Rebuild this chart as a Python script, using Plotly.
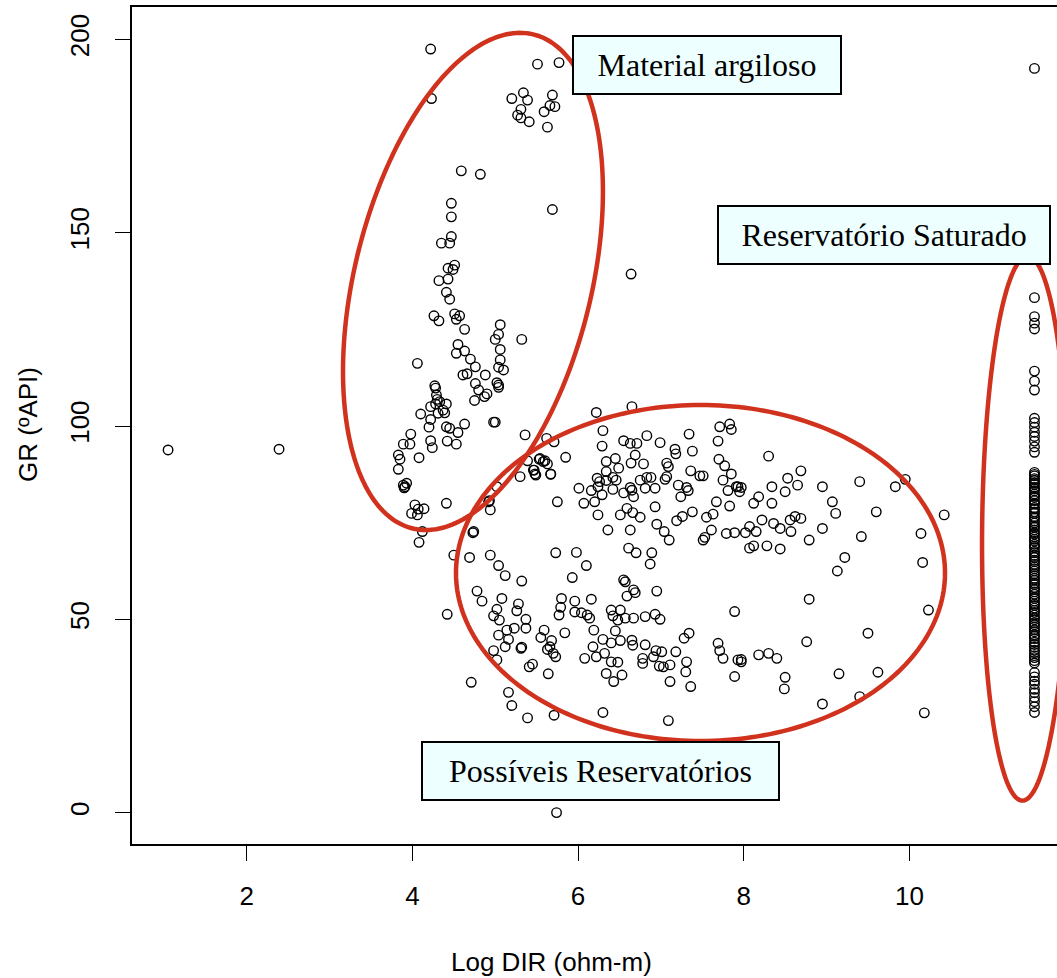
import numpy as np
import plotly.graph_objects as go

# ---- Log DIR (ohm-m) vs GR (ºAPI) --------------------------------------
# Clay-rich interval (high GR, low resistivity)
clay_x = [4.22, 4.23, 5.51, 5.77, 5.20, 5.34, 5.39, 5.31, 5.27, 5.31, 5.41, 5.69, 5.66, 5.72, 5.59, 5.63,
          4.59, 4.82, 4.47, 4.47, 5.69, 4.47, 4.35, 4.45, 4.51, 4.43, 4.49,
          4.32, 4.43, 4.41, 4.45, 4.26, 4.32, 4.51, 4.57, 4.53, 4.63, 5.06, 5.04, 5.00, 5.32, 4.55, 4.53,
          4.63, 4.70, 4.76, 5.06, 5.06, 5.04, 5.10, 4.06, 4.61, 4.66, 4.88, 4.76, 5.02, 5.04, 5.04, 4.80,
          4.90, 4.87, 4.75,
          4.27, 4.28, 4.29, 4.30, 4.33, 4.41, 4.28, 4.22, 4.37, 4.39, 4.31, 4.10, 4.22, 4.20, 4.41, 4.45,
          4.63, 4.55, 4.98, 5.00, 3.98, 3.89, 3.97, 4.22, 4.24, 4.42, 4.53, 3.83, 3.85, 4.08, 3.83, 3.89,
          3.91, 3.93, 3.90, 4.41, 4.03, 4.07, 4.14, 3.99, 4.06, 4.12, 4.08]
clay_y = [197.5, 184.7, 193.6, 194.0, 184.7, 186.2, 184.3, 181.9, 180.4, 179.7, 178.7, 185.6, 182.9, 182.6, 181.3, 177.3,
          166.0, 165.1, 157.6, 154.1, 156.0, 149.0, 147.3, 147.3, 141.6, 140.8, 140.5,
          137.6, 138.0, 134.6, 132.8, 128.5, 127.2, 129.0, 128.5, 127.6, 125.0, 126.2, 123.7, 122.4, 122.4, 121.1, 118.8,
          119.4, 117.3, 115.3, 119.8, 117.1, 115.2, 114.5, 116.2, 113.2, 113.5, 113.2, 111.0, 111.2, 110.6, 110.0, 109.3,
          108.3, 107.6, 106.6,
          110.4, 109.8, 108.0, 106.9, 106.3, 105.7, 105.7, 105.0, 104.1, 103.4, 103.3, 103.1, 101.7, 99.7, 99.8, 99.4,
          100.5, 98.3, 101.0, 101.0, 97.9, 95.3, 95.3, 96.2, 94.4, 96.1, 95.3, 92.5, 91.4, 91.8, 88.8, 84.7,
          84.3, 85.2, 84.0, 80.0, 79.6, 78.5, 78.6, 77.4, 77.0, 72.7, 69.9]

# Possible reservoirs (moderate resistivity, low GR)
res_x = [4.74, 5.36, 5.62, 5.71, 5.85, 5.53, 5.60, 5.63, 5.47, 5.49, 5.30, 5.67, 5.02, 4.93, 4.94, 5.75,
         6.22, 6.65, 6.30, 6.29, 6.55, 6.63, 6.71, 6.83, 6.99, 7.17, 7.18, 7.34, 7.38, 7.71, 7.83, 7.85,
         7.69, 7.70, 7.77, 7.85, 7.75, 7.91, 7.81, 7.67, 7.83, 7.63, 7.55, 7.61, 7.51, 7.53, 7.79, 7.89, 7.89,
         6.34, 6.45, 6.49, 6.64, 6.69, 6.79, 6.34, 6.23, 6.26, 6.24, 6.34, 6.42, 6.46, 6.42, 6.29, 6.16,
         6.01, 6.07, 6.20, 6.55, 6.63, 6.65, 6.67, 6.75, 6.81, 6.83, 6.88, 6.93, 7.07, 7.09, 7.07, 7.05,
         7.21, 7.31, 7.33, 7.24, 7.47, 7.36, 6.93, 6.59, 6.66, 6.51, 6.75, 6.24, 6.36, 6.63, 6.95, 7.04,
         7.10, 7.19, 7.26, 7.38, 6.61, 6.70, 6.89, 6.87,
         5.54, 5.58, 5.39, 5.46, 5.48, 5.67, 4.92, 4.73, 4.50, 4.69, 4.94, 5.04, 5.12, 5.32, 5.73, 5.98,
         6.10, 5.93, 6.55, 6.57, 6.67, 6.69, 6.59, 6.95, 4.78, 4.84, 5.08, 5.02, 4.98, 5.05, 5.14, 5.16,
         5.04, 5.12, 4.98, 5.02, 5.28, 5.26, 5.37, 5.37, 5.23, 5.32, 5.31, 5.80, 5.79, 5.77, 5.96, 6.16,
         5.96, 6.04, 6.11, 6.14, 6.40, 6.51, 6.42, 6.48, 6.57, 6.67, 6.81, 6.93, 6.99, 6.19, 6.45, 5.59,
         5.55, 5.84, 5.68, 5.66, 5.70, 5.73, 5.63, 5.45, 5.41, 5.64, 6.30, 6.18, 6.22, 6.08, 6.32, 6.40,
         6.51, 6.65, 6.66, 6.40, 6.48, 6.34, 6.43, 6.53, 6.81, 6.78, 6.78, 6.91, 6.94, 6.98, 7.03, 7.11,
         7.01, 7.18, 7.11, 7.31, 7.30, 7.36, 7.28, 7.34, 7.69, 7.71, 7.75, 7.93, 7.89, 4.71, 5.16, 5.20,
         5.39, 5.71, 6.30, 7.09, 4.42,
         8.30, 7.51, 7.93, 7.97, 7.95, 8.18, 8.12, 8.34, 8.53, 8.69, 8.65, 8.50, 8.34, 8.95, 9.40, 9.07,
         9.11, 9.60, 9.83, 9.95, 10.14, 10.16, 10.23, 9.42, 9.22, 9.13, 8.95, 8.79, 8.69, 8.62, 8.56, 8.57,
         8.44, 8.36, 8.22, 8.15, 8.07, 8.02, 8.07, 8.12, 8.28, 8.44, 8.79, 9.50, 8.76, 7.97, 7.97, 8.18,
         8.30, 8.40, 8.50, 8.49, 9.15, 9.62, 8.95, 9.40]
res_y = [72.7, 97.7, 96.8, 95.9, 91.9, 91.4, 91.0, 90.2, 88.6, 87.3, 86.9, 87.5, 84.3, 80.7, 78.3, 80.4,
         103.5, 105.0, 98.8, 94.8, 96.2, 95.5, 95.5, 97.5, 95.7, 94.0, 92.8, 97.9, 93.5, 99.8, 100.5, 99.1,
         96.1, 91.4, 89.7, 87.6, 86.0, 84.3, 83.3, 80.4, 79.3, 77.2, 76.4, 73.1, 70.5, 71.2, 72.2, 72.4, 52.0,
         90.8, 91.6, 89.1, 90.4, 92.5, 90.2, 88.2, 86.5, 85.6, 84.3, 85.9, 86.7, 86.0, 83.6, 82.2, 83.3,
         83.9, 80.0, 80.4, 82.7, 84.1, 83.4, 81.7, 86.0, 83.9, 86.7, 86.7, 83.9, 90.4, 89.5, 86.9, 86.2,
         84.7, 84.1, 83.3, 81.7, 87.1, 88.4, 79.1, 78.7, 77.6, 77.0, 76.4, 77.0, 73.1, 73.1, 74.6, 72.7,
         70.5, 75.5, 76.6, 77.8, 68.4, 67.2, 67.2, 64.3,
         91.6, 90.8, 91.0, 88.6, 87.6, 87.6, 80.4, 72.4, 66.6, 66.0, 66.6, 63.9, 61.3, 59.9, 67.2, 67.3,
         63.9, 60.8, 60.2, 59.7, 57.6, 56.9, 56.0, 57.3, 57.3, 54.7, 55.4, 52.6, 50.9, 49.8, 47.2, 44.8,
         45.9, 42.9, 41.9, 39.5, 54.0, 52.2, 50.0, 47.7, 47.7, 42.8, 42.5, 55.4, 53.1, 51.1, 54.7, 55.2,
         51.9, 51.7, 51.1, 50.3, 52.4, 52.4, 50.9, 49.8, 50.3, 50.3, 50.7, 51.3, 50.0, 47.2, 47.0, 47.2,
         45.3, 46.5, 44.5, 42.9, 41.2, 40.3, 42.2, 38.4, 37.7, 35.9, 44.8, 42.9, 40.3, 39.9, 41.2, 43.9,
         44.5, 44.6, 43.3, 39.0, 38.9, 36.0, 33.9, 35.6, 43.4, 39.9, 38.6, 40.3, 41.9, 37.9, 37.7, 38.2,
         41.6, 41.6, 33.9, 39.0, 36.4, 32.6, 45.1, 46.4, 43.8, 41.9, 39.9, 39.5, 35.2, 33.7, 31.1, 27.7,
         24.5, 25.2, 25.9, 23.8, 51.3,
         92.2, 87.1, 84.3, 84.1, 83.0, 81.7, 80.0, 84.3, 86.5, 88.4, 84.7, 83.0, 80.0, 84.3, 85.6, 80.4,
         77.4, 77.8, 84.3, 86.2, 72.2, 64.7, 52.4, 71.4, 66.0, 62.5, 73.5, 70.5, 76.1, 76.6, 75.7, 72.7,
         73.5, 74.8, 75.7, 72.7, 74.0, 72.4, 68.4, 69.0, 69.0, 68.2, 55.2, 46.4, 44.2, 39.6, 39.0, 40.8,
         41.2, 39.9, 35.0, 32.0, 35.9, 36.3, 28.1, 30.0]

# Isolated samples
iso_x = [1.05, 2.39, 5.74, 6.64, 10.42, 10.18]
iso_y = [93.8, 94.0, 0.0, 139.3, 77.0, 25.8]

# Saturated reservoir: resistivity at the tool ceiling
sat_x_value = 11.51
sat_y = [192.5, 133.2, 128.3, 126.6, 125.1, 114.2, 111.6, 109.3, 102.0, 100.9, 99.7, 98.4, 97.3, 96.1,
         94.6, 93.2,
         88.0, 87.5, 87.1, 86.4, 86.0, 85.3, 84.9, 84.1, 83.7, 83.2, 82.4, 81.9, 81.5, 80.7, 80.0, 79.8,
         78.9, 78.5, 77.8, 77.4, 76.5, 76.2, 75.4, 74.9, 74.2, 73.8, 73.1, 72.4, 72.0, 71.3, 70.7, 70.2,
         69.4, 68.9, 68.5, 67.6, 67.2, 66.5, 66.0, 65.3, 64.9, 64.2, 63.6, 63.1, 62.5, 61.8, 61.3, 60.6,
         60.1, 59.4, 59.0, 58.2, 57.7, 57.1, 56.5, 55.8, 55.4, 54.7, 54.0, 53.6, 52.9, 52.3, 51.8, 51.1,
         50.4, 49.9, 49.1, 48.6, 48.0, 47.3, 46.8, 46.0, 45.6, 45.0, 44.1, 43.5, 42.8, 42.0, 41.4, 40.6,
         40.1, 39.3, 38.7,
         36.2, 35.1, 34.0, 33.2, 31.9, 31.0, 29.8, 28.7, 27.4, 25.9]
sat_x = [sat_x_value] * len(sat_y)

x_ticks = [2, 4, 6, 8, 10]
y_ticks = [0, 50, 100, 150, 200]

# Interpretation zones: centre, half-extent in x and y, correlation
zones = [
    dict(cx=4.731, cy=137.4, wx=1.569, hy=64.3, rho=0.362),   # Material argiloso
    dict(cx=7.478, cy=61.98, wx=2.952, hy=43.46, rho=0.0),    # Possíveis Reservatórios
    dict(cx=11.396, cy=73.5, wx=0.519, hy=70.4, rho=0.06),    # Reservatório Saturado
]

zone_labels = [
    dict(text="Material argiloso", x=7.556, y=193.4, w=266, h=56),
    dict(text="Reservatório Saturado", x=9.694, y=149.4, w=330, h=56),
    dict(text="Possíveis Reservatórios", x=6.271, y=10.76, w=355, h=56),
]

RED = "rgb(208,50,30)"
W, H = 1057, 978
ML, MR, MT, MB = 132, 0, 7, 134

fig = go.Figure()

marker = dict(symbol="circle-open", size=9.5, color="black", line=dict(width=1.4, color="black"))
for xs, ys in [(clay_x, clay_y), (res_x, res_y), (iso_x, iso_y), (sat_x, sat_y)]:
    fig.add_trace(go.Scatter(x=xs, y=ys, mode="markers", marker=marker,
                             showlegend=False, hoverinfo="x+y"))

# Ellipse outlines
t = np.linspace(0, 2 * np.pi, 241)
for z in zones:
    phi = np.arccos(z["rho"])
    ex = z["cx"] + z["wx"] * np.cos(t)
    ey = z["cy"] + z["hy"] * np.cos(t - phi)
    path = "M " + " L ".join(f"{a:.5f},{b:.5f}" for a, b in zip(ex, ey)) + " Z"
    fig.add_shape(type="path", path=path, xref="x", yref="y",
                  line=dict(color=RED, width=4.5), layer="above")

for lab in zone_labels:
    fig.add_annotation(x=lab["x"], y=lab["y"], xref="x", yref="y", text=lab["text"],
                       showarrow=False, width=lab["w"], height=lab["h"],
                       bgcolor="#eeffff", bordercolor="black", borderwidth=2, borderpad=0,
                       font=dict(family="Liberation Serif", size=32, color="black"),
                       align="center", valign="middle")

plot_w = W - ML - MR
plot_h = H - MT - MB
fig.add_annotation(text="Log DIR (ohm-m)", xref="paper", yref="paper",
                   x=(551 - ML) / plot_w, y=(H - MB - 962) / plot_h,
                   xanchor="center", yanchor="middle",
                   showarrow=False, font=dict(family="Liberation Sans", size=26, color="black"))
fig.add_annotation(text="GR (ºAPI)", xref="paper", yref="paper",
                   x=(28 - ML) / plot_w, y=(H - MB - 425) / plot_h, textangle=-90,
                   xanchor="center", yanchor="middle",
                   showarrow=False, font=dict(family="Liberation Sans", size=26, color="black"))

axis_font = dict(family="Liberation Sans", size=26, color="black")
fig.update_xaxes(range=[0.6145, 11.782], tickvals=x_ticks, ticktext=[str(v) for v in x_ticks],
                 ticks="outside", ticklen=15, tickwidth=1.4, tickcolor="black",
                 showline=True, linecolor="black", linewidth=1.6, mirror=True,
                 showgrid=False, zeroline=False, tickfont=axis_font, ticklabelstandoff=13)
fig.update_yaxes(range=[-8.12, 208.38], tickvals=y_ticks, ticktext=[str(v) for v in y_ticks],
                 ticks="outside", ticklen=15, tickwidth=1.4, tickcolor="black",
                 showline=True, linecolor="black", linewidth=1.6, mirror=False,
                 showgrid=False, zeroline=False, tickfont=axis_font, tickangle=-90,
                 ticklabelstandoff=16)

fig.update_layout(width=W, height=H, margin=dict(l=ML, r=MR, t=MT, b=MB),
                  plot_bgcolor="white", paper_bgcolor="white", showlegend=False)

fig.write_html("out.html")
